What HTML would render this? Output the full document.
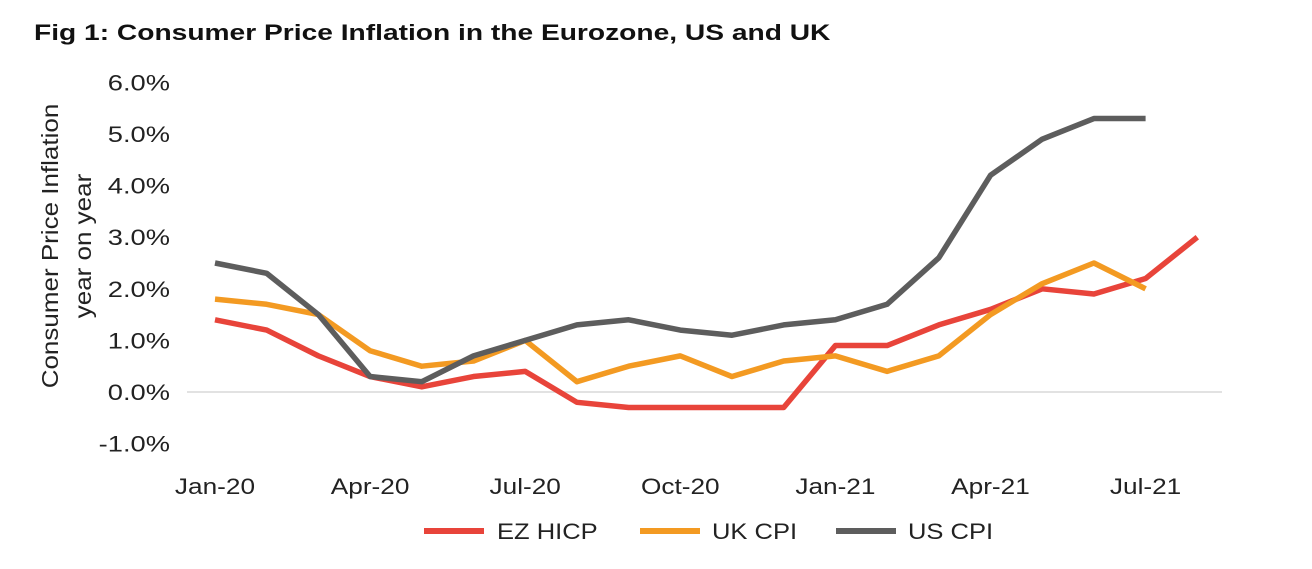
<!DOCTYPE html>
<html><head><meta charset="utf-8"><style>
body{margin:0;background:#fff;width:1312px;height:564px;overflow:hidden;font-family:"Liberation Sans",sans-serif;}
</style></head><body>
<svg width="1312" height="564">
<text class="st" data-f="1.28" x="34" y="40" font-size="22" font-weight="bold" fill="#111">Fig 1: Consumer Price Inflation in the Eurozone, US and UK</text>
<g id="yaxis"></g>
<g id="xaxis"></g>
<text transform="translate(58,246) rotate(-90)" text-anchor="middle" font-size="23" fill="#222"><tspan class="st" data-f="1.13" x="0" dy="0">Consumer Price Inflation</tspan><tspan class="st" data-f="1.13" x="0" dy="33">year on year</tspan></text>
<g id="series"></g>
<g>
<g><line x1="424" y1="531" x2="484" y2="531" stroke="#e8443a" stroke-width="6"/><text class="st" data-f="1.16" x="497" y="539" font-size="22" fill="#222">EZ HICP</text></g>
<g><line x1="640" y1="531" x2="700" y2="531" stroke="#f39a22" stroke-width="6"/><text class="st" data-f="1.16" x="712" y="539" font-size="22" fill="#222">UK CPI</text></g>
<g><line x1="836" y1="531" x2="896" y2="531" stroke="#5d5d5d" stroke-width="6"/><text class="st" data-f="1.16" x="908" y="539" font-size="22" fill="#222">US CPI</text></g>
</g>
</svg>
<script>
const yTicks=[6,5,4,3,2,1,0,-1];
const xTickLabels=["Jan-20","Apr-20","Jul-20","Oct-20","Jan-21","Apr-21","Jul-21"];
const xTickIdx=[0,3,6,9,12,15,18];
const ezHicp=[1.4,1.2,0.7,0.3,0.1,0.3,0.4,-0.2,-0.3,-0.3,-0.3,-0.3,0.9,0.9,1.3,1.6,2.0,1.9,2.2,3.0];
const ukCpi=[1.8,1.7,1.5,0.8,0.5,0.6,1.0,0.2,0.5,0.7,0.3,0.6,0.7,0.4,0.7,1.5,2.1,2.5,2.0];
const usCpi=[2.5,2.3,1.5,0.3,0.2,0.7,1.0,1.3,1.4,1.2,1.1,1.3,1.4,1.7,2.6,4.2,4.9,5.3,5.3];
const NS="http://www.w3.org/2000/svg";
function X(i){return 215+i*51.7;}
function Y(v){return 392-v*51.6;}
const ya=document.getElementById('yaxis');
yTicks.forEach(v=>{const t=document.createElementNS(NS,'text');t.setAttribute('x',170);t.setAttribute('y',Y(v)+8);t.setAttribute('text-anchor','end');t.setAttribute('font-size','22');t.setAttribute('fill','#222');t.setAttribute('class','st');t.setAttribute('data-f','1.24');t.textContent=v.toFixed(1)+'%';


ya.appendChild(t);});
const zl=document.createElementNS(NS,'line');zl.setAttribute('x1',187);zl.setAttribute('x2',1222);zl.setAttribute('y1',Y(0));zl.setAttribute('y2',Y(0));zl.setAttribute('stroke','#d9d9d9');zl.setAttribute('stroke-width','1.5');


ya.appendChild(zl);
const xa=document.getElementById('xaxis');
xTickLabels.forEach((l,k)=>{const t=document.createElementNS(NS,'text');t.setAttribute('x',X(xTickIdx[k]));t.setAttribute('y',494);t.setAttribute('text-anchor','middle');t.setAttribute('font-size','22');t.setAttribute('fill','#222');t.setAttribute('class','st');t.setAttribute('data-f','1.19');t.textContent=l;


xa.appendChild(t);});
const sg=document.getElementById('series');
[[ezHicp,'#e8443a','ez-hicp-line'],[ukCpi,'#f39a22','uk-cpi-line'],[usCpi,'#5d5d5d','us-cpi-line']].forEach(([d,c,n])=>{const p=document.createElementNS(NS,'polyline');p.setAttribute('points',d.map((v,i)=>X(i)+','+Y(v)).join(' '));p.setAttribute('fill','none');p.setAttribute('stroke',c);p.setAttribute('stroke-width','5.5');p.setAttribute('stroke-linejoin','round');


sg.appendChild(p);});
document.querySelectorAll('.st').forEach(t=>{const w=t.getComputedTextLength();t.setAttribute('textLength',(w*parseFloat(t.getAttribute('data-f'))).toFixed(1));t.setAttribute('lengthAdjust','spacingAndGlyphs');});
</script>
</body></html>
